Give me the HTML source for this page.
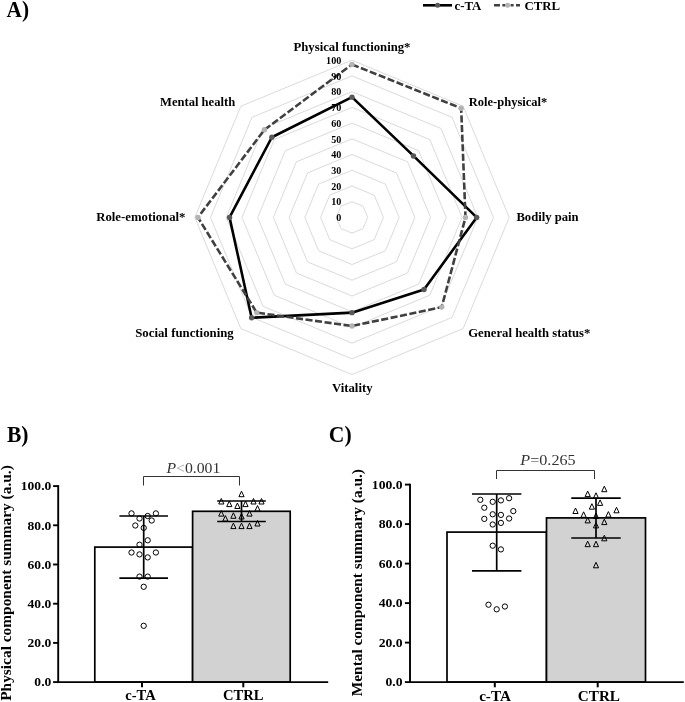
<!DOCTYPE html>
<html><head><meta charset="utf-8"><title>Figure</title>
<style>html,body{margin:0;padding:0;background:#fff}svg{display:block}</style></head>
<body><svg width="685" height="702" viewBox="0 0 685 702">
<rect width="685" height="702" fill="#fff"/>
<g font-family="'Liberation Serif', 'Times New Roman', serif">
<g fill="none" stroke="#d6d6d6" stroke-width="0.9">
<polygon points="352.00,201.68 363.12,206.28 367.72,217.40 363.12,228.52 352.00,233.12 340.88,228.52 336.28,217.40 340.88,206.28"/>
<polygon points="352.00,185.96 374.23,195.17 383.44,217.40 374.23,239.63 352.00,248.84 329.77,239.63 320.56,217.40 329.77,195.17"/>
<polygon points="352.00,170.24 385.35,184.05 399.16,217.40 385.35,250.75 352.00,264.56 318.65,250.75 304.84,217.40 318.65,184.05"/>
<polygon points="352.00,154.52 396.46,172.94 414.88,217.40 396.46,261.86 352.00,280.28 307.54,261.86 289.12,217.40 307.54,172.94"/>
<polygon points="352.00,138.80 407.58,161.82 430.60,217.40 407.58,272.98 352.00,296.00 296.42,272.98 273.40,217.40 296.42,161.82"/>
<polygon points="352.00,123.08 418.69,150.71 446.32,217.40 418.69,284.09 352.00,311.72 285.31,284.09 257.68,217.40 285.31,150.71"/>
<polygon points="352.00,107.36 429.81,139.59 462.04,217.40 429.81,295.21 352.00,327.44 274.19,295.21 241.96,217.40 274.19,139.59"/>
<polygon points="352.00,91.64 440.93,128.47 477.76,217.40 440.93,306.33 352.00,343.16 263.07,306.33 226.24,217.40 263.07,128.47"/>
<polygon points="352.00,75.92 452.04,117.36 493.48,217.40 452.04,317.44 352.00,358.88 251.96,317.44 210.52,217.40 251.96,117.36"/>
<polygon points="352.00,60.20 463.16,106.24 509.20,217.40 463.16,328.56 352.00,374.60 240.84,328.56 194.80,217.40 240.84,106.24"/>
</g>
<polygon points="352.00,97.14 413.47,155.93 476.66,217.40 424.03,289.43 352.00,312.66 251.63,317.77 229.54,217.40 271.86,137.26" fill="none" stroke="#000" stroke-width="2.6" stroke-linejoin="round"/>
<circle cx="352.00" cy="97.14" r="2.7" fill="#595959"/>
<circle cx="413.47" cy="155.93" r="2.7" fill="#595959"/>
<circle cx="476.66" cy="217.40" r="2.7" fill="#595959"/>
<circle cx="424.03" cy="289.43" r="2.7" fill="#595959"/>
<circle cx="352.00" cy="312.66" r="2.7" fill="#595959"/>
<circle cx="251.63" cy="317.77" r="2.7" fill="#595959"/>
<circle cx="229.54" cy="217.40" r="2.7" fill="#595959"/>
<circle cx="271.86" cy="137.26" r="2.7" fill="#595959"/>
<polygon points="352.00,64.44 461.16,108.24 465.50,217.40 441.70,307.10 352.00,326.03 256.74,312.66 197.94,217.40 264.41,129.81" fill="none" stroke="#404040" stroke-width="2.6" stroke-dasharray="7.1 2.5" stroke-linejoin="round"/>
<circle cx="352.00" cy="64.44" r="2.7" fill="#b3b3b3"/>
<circle cx="461.16" cy="108.24" r="2.7" fill="#b3b3b3"/>
<circle cx="465.50" cy="217.40" r="2.7" fill="#b3b3b3"/>
<circle cx="441.70" cy="307.10" r="2.7" fill="#b3b3b3"/>
<circle cx="352.00" cy="326.03" r="2.7" fill="#b3b3b3"/>
<circle cx="256.74" cy="312.66" r="2.7" fill="#b3b3b3"/>
<circle cx="197.94" cy="217.40" r="2.7" fill="#b3b3b3"/>
<circle cx="264.41" cy="129.81" r="2.7" fill="#b3b3b3"/>
<text transform="translate(341.3 221.2) scale(1.08 1)" font-size="9.4" font-weight="bold" text-anchor="end" fill="#000">0</text>
<text transform="translate(341.3 205.48) scale(1.08 1)" font-size="9.4" font-weight="bold" text-anchor="end" fill="#000">10</text>
<text transform="translate(341.3 189.76) scale(1.08 1)" font-size="9.4" font-weight="bold" text-anchor="end" fill="#000">20</text>
<text transform="translate(341.3 174.04) scale(1.08 1)" font-size="9.4" font-weight="bold" text-anchor="end" fill="#000">30</text>
<text transform="translate(341.3 158.32) scale(1.08 1)" font-size="9.4" font-weight="bold" text-anchor="end" fill="#000">40</text>
<text transform="translate(341.3 142.6) scale(1.08 1)" font-size="9.4" font-weight="bold" text-anchor="end" fill="#000">50</text>
<text transform="translate(341.3 126.88) scale(1.08 1)" font-size="9.4" font-weight="bold" text-anchor="end" fill="#000">60</text>
<text transform="translate(341.3 111.16) scale(1.08 1)" font-size="9.4" font-weight="bold" text-anchor="end" fill="#000">70</text>
<text transform="translate(341.3 95.44) scale(1.08 1)" font-size="9.4" font-weight="bold" text-anchor="end" fill="#000">80</text>
<text transform="translate(341.3 79.72) scale(1.08 1)" font-size="9.4" font-weight="bold" text-anchor="end" fill="#000">90</text>
<text transform="translate(341.3 64.0) scale(1.08 1)" font-size="9.4" font-weight="bold" text-anchor="end" fill="#000">100</text>
<text transform="translate(293.5 51) scale(0.943 1)" font-size="13.5" font-weight="bold" text-anchor="start" fill="#000">Physical functioning*</text>
<text transform="translate(468.8 106) scale(0.926 1)" font-size="13.5" font-weight="bold" text-anchor="start" fill="#000">Role-physical*</text>
<text transform="translate(516.4 221) scale(0.938 1)" font-size="13.5" font-weight="bold" text-anchor="start" fill="#000">Bodily pain</text>
<text transform="translate(468.2 337) scale(0.942 1)" font-size="13.5" font-weight="bold" text-anchor="start" fill="#000">General health status*</text>
<text transform="translate(332.0 392) scale(0.944 1)" font-size="13.5" font-weight="bold" text-anchor="start" fill="#000">Vitality</text>
<text transform="translate(135.2 337) scale(0.949 1)" font-size="13.5" font-weight="bold" text-anchor="start" fill="#000">Social functioning</text>
<text transform="translate(96.2 221) scale(0.946 1)" font-size="13.5" font-weight="bold" text-anchor="start" fill="#000">Role-emotional*</text>
<text transform="translate(160.0 106) scale(0.934 1)" font-size="13.5" font-weight="bold" text-anchor="start" fill="#000">Mental health</text>
<line x1="423" y1="5.3" x2="452" y2="5.3" stroke="#000" stroke-width="2.6"/>
<circle cx="437.6" cy="5.3" r="2.5" fill="#595959"/>
<line x1="494" y1="5.3" x2="520" y2="5.3" stroke="#404040" stroke-width="2.6" stroke-dasharray="6 2.4 3 5.2 3 2.4 6"/>
<circle cx="507.7" cy="5.3" r="2.5" fill="#b3b3b3"/>
<text transform="translate(454.5 10)" font-size="12.8" font-weight="bold" text-anchor="start" fill="#000">c-TA</text>
<text transform="translate(524.5 10)" font-size="12.8" font-weight="bold" text-anchor="start" fill="#000">CTRL</text>
<text transform="translate(6.6 17) scale(0.89 1)" font-size="24" font-weight="bold" text-anchor="start" fill="#000">A)</text>
<text transform="translate(6.9 442) scale(0.9 1)" font-size="24" font-weight="bold" text-anchor="start" fill="#000">B)</text>
<text transform="translate(328.8 442) scale(0.9 1)" font-size="24" font-weight="bold" text-anchor="start" fill="#000">C)</text>
<rect x="94.8" y="547.1" width="97.80" height="135.00" fill="#fff" stroke="#000" stroke-width="1.7"/>
<rect x="192.6" y="511.3" width="97.60" height="170.80" fill="#d2d2d2" stroke="#000" stroke-width="1.7"/>
<line x1="58.2" y1="485.15000000000003" x2="58.2" y2="683.0500000000001" stroke="#000" stroke-width="1.9"/>
<line x1="57.25" y1="682.1" x2="328.2" y2="682.1" stroke="#000" stroke-width="1.9"/>
<line x1="53.1" y1="682.10" x2="58.2" y2="682.10" stroke="#000" stroke-width="1.9"/>
<text transform="translate(51.3 686.3) scale(1.06 1)" font-size="12.8" font-weight="bold" text-anchor="end" fill="#000">0.0</text>
<line x1="53.1" y1="642.90" x2="58.2" y2="642.90" stroke="#000" stroke-width="1.9"/>
<text transform="translate(51.3 647.1) scale(1.06 1)" font-size="12.8" font-weight="bold" text-anchor="end" fill="#000">20.0</text>
<line x1="53.1" y1="603.70" x2="58.2" y2="603.70" stroke="#000" stroke-width="1.9"/>
<text transform="translate(51.3 607.9) scale(1.06 1)" font-size="12.8" font-weight="bold" text-anchor="end" fill="#000">40.0</text>
<line x1="53.1" y1="564.50" x2="58.2" y2="564.50" stroke="#000" stroke-width="1.9"/>
<text transform="translate(51.3 568.7) scale(1.06 1)" font-size="12.8" font-weight="bold" text-anchor="end" fill="#000">60.0</text>
<line x1="53.1" y1="525.30" x2="58.2" y2="525.30" stroke="#000" stroke-width="1.9"/>
<text transform="translate(51.3 529.5) scale(1.06 1)" font-size="12.8" font-weight="bold" text-anchor="end" fill="#000">80.0</text>
<line x1="53.1" y1="486.10" x2="58.2" y2="486.10" stroke="#000" stroke-width="1.9"/>
<text transform="translate(51.3 490.3) scale(1.06 1)" font-size="12.8" font-weight="bold" text-anchor="end" fill="#000">100.0</text>
<line x1="142" y1="682.1" x2="142" y2="687.3000000000001" stroke="#000" stroke-width="2"/>
<line x1="243.3" y1="682.1" x2="243.3" y2="687.3000000000001" stroke="#000" stroke-width="2"/>
<text transform="translate(140.5 700.3) scale(1.02 1)" font-size="14.3" font-weight="bold" text-anchor="middle" fill="#000">c-TA</text>
<text transform="translate(243.3 700.3) scale(1.02 1)" font-size="14.3" font-weight="bold" text-anchor="middle" fill="#000">CTRL</text>
<g stroke="#000" stroke-width="1.7"><line x1="143.7" y1="516" x2="143.7" y2="578.2"/><line x1="119.39999999999999" y1="516" x2="168.0" y2="516"/><line x1="119.39999999999999" y1="578.2" x2="168.0" y2="578.2"/></g>
<g stroke="#000" stroke-width="1.7"><line x1="241.5" y1="501" x2="241.5" y2="521.5"/><line x1="217.2" y1="501" x2="265.8" y2="501"/><line x1="217.2" y1="521.5" x2="265.8" y2="521.5"/></g>
<g fill="none" stroke="#000" stroke-width="1">
<circle cx="131.5" cy="513.4" r="2.65"/>
<circle cx="155.9" cy="513.4" r="2.65"/>
<circle cx="147.7" cy="516.0" r="2.65"/>
<circle cx="139.5" cy="518.5" r="2.65"/>
<circle cx="151.7" cy="520.5" r="2.65"/>
<circle cx="135.3" cy="525.5" r="2.65"/>
<circle cx="143.7" cy="527.9" r="2.65"/>
<circle cx="147.7" cy="540.3" r="2.65"/>
<circle cx="139.5" cy="544.7" r="2.65"/>
<circle cx="131.5" cy="552.5" r="2.65"/>
<circle cx="155.9" cy="552.5" r="2.65"/>
<circle cx="139.5" cy="554.4" r="2.65"/>
<circle cx="147.7" cy="557.4" r="2.65"/>
<circle cx="139.5" cy="576.6" r="2.65"/>
<circle cx="147.7" cy="576.6" r="2.65"/>
<circle cx="143.7" cy="586.8" r="2.65"/>
<circle cx="143.7" cy="625.8" r="2.65"/>
<path d="M238.9 496.7L241.5 491.2L244.1 496.7Z"/>
<path d="M218.7 504.0L221.3 498.5L223.9 504.0Z"/>
<path d="M250.9 504.0L253.5 498.5L256.1 504.0Z"/>
<path d="M258.9 504.0L261.5 498.5L264.1 504.0Z"/>
<path d="M226.7 506.6L229.3 501.1L231.9 506.6Z"/>
<path d="M242.9 506.6L245.5 501.1L248.1 506.6Z"/>
<path d="M234.8 508.5L237.4 503.0L240.0 508.5Z"/>
<path d="M254.9 511.1L257.5 505.6L260.1 511.1Z"/>
<path d="M218.7 516.1L221.3 510.6L223.9 516.1Z"/>
<path d="M246.9 516.1L249.5 510.6L252.1 516.1Z"/>
<path d="M230.8 518.3L233.4 512.8L236.0 518.3Z"/>
<path d="M238.9 519.0L241.5 513.5L244.1 519.0Z"/>
<path d="M222.8 521.1L225.4 515.6L228.0 521.1Z"/>
<path d="M254.9 526.0L257.5 520.5L260.1 526.0Z"/>
<path d="M230.8 528.6L233.4 523.1L236.0 528.6Z"/>
<path d="M238.9 528.6L241.5 523.1L244.1 528.6Z"/>
<path d="M246.9 528.6L249.5 523.1L252.1 528.6Z"/>
</g>
<path d="M143.5 485.5V476.5H239.5V485.5" fill="none" stroke="#333" stroke-width="1"/>
<text transform="translate(11.1 700.8) rotate(-90)" font-size="15.4" font-weight="bold" text-anchor="start" fill="#000">Physical component summary (a.u.)</text>
<text transform="translate(166.4 473) scale(1.05 1)" font-size="15" fill="#333"><tspan font-style="italic">P</tspan><tspan fill="#999">&lt;</tspan>0.001</text>
<rect x="447.0" y="532.1" width="99.50" height="150.00" fill="#fff" stroke="#000" stroke-width="1.7"/>
<rect x="546.5" y="517.9" width="99.00" height="164.20" fill="#d2d2d2" stroke="#000" stroke-width="1.7"/>
<line x1="410.0" y1="483.65000000000003" x2="410.0" y2="683.0500000000001" stroke="#000" stroke-width="1.9"/>
<line x1="409.05" y1="682.1" x2="683.8" y2="682.1" stroke="#000" stroke-width="1.9"/>
<line x1="404.9" y1="682.10" x2="410.0" y2="682.10" stroke="#000" stroke-width="1.9"/>
<text transform="translate(402.6 686.1) scale(1.06 1)" font-size="12.9" font-weight="bold" text-anchor="end" fill="#000">0.0</text>
<line x1="404.9" y1="642.60" x2="410.0" y2="642.60" stroke="#000" stroke-width="1.9"/>
<text transform="translate(402.6 646.6) scale(1.06 1)" font-size="12.9" font-weight="bold" text-anchor="end" fill="#000">20.0</text>
<line x1="404.9" y1="603.10" x2="410.0" y2="603.10" stroke="#000" stroke-width="1.9"/>
<text transform="translate(402.6 607.1) scale(1.06 1)" font-size="12.9" font-weight="bold" text-anchor="end" fill="#000">40.0</text>
<line x1="404.9" y1="563.60" x2="410.0" y2="563.60" stroke="#000" stroke-width="1.9"/>
<text transform="translate(402.6 567.6) scale(1.06 1)" font-size="12.9" font-weight="bold" text-anchor="end" fill="#000">60.0</text>
<line x1="404.9" y1="524.10" x2="410.0" y2="524.10" stroke="#000" stroke-width="1.9"/>
<text transform="translate(402.6 528.1) scale(1.06 1)" font-size="12.9" font-weight="bold" text-anchor="end" fill="#000">80.0</text>
<line x1="404.9" y1="484.60" x2="410.0" y2="484.60" stroke="#000" stroke-width="1.9"/>
<text transform="translate(402.6 488.6) scale(1.06 1)" font-size="12.9" font-weight="bold" text-anchor="end" fill="#000">100.0</text>
<line x1="494.8" y1="682.1" x2="494.8" y2="687.3000000000001" stroke="#000" stroke-width="2"/>
<line x1="597.7" y1="682.1" x2="597.7" y2="687.3000000000001" stroke="#000" stroke-width="2"/>
<text transform="translate(495.0 700.6) scale(1.04 1)" font-size="14.6" font-weight="bold" text-anchor="middle" fill="#000">c-TA</text>
<text transform="translate(598.9 700.6) scale(1.04 1)" font-size="14.6" font-weight="bold" text-anchor="middle" fill="#000">CTRL</text>
<g stroke="#000" stroke-width="1.7"><line x1="496.7" y1="494" x2="496.7" y2="570.8"/><line x1="472.0" y1="494" x2="521.4" y2="494"/><line x1="472.0" y1="570.8" x2="521.4" y2="570.8"/></g>
<g stroke="#000" stroke-width="1.7"><line x1="596.0" y1="498.1" x2="596.0" y2="538"/><line x1="571.3" y1="498.1" x2="620.7" y2="498.1"/><line x1="571.3" y1="538" x2="620.7" y2="538"/></g>
<g fill="none" stroke="#000" stroke-width="1">
<circle cx="509.1" cy="498.2" r="2.65"/>
<circle cx="480.3" cy="499.8" r="2.65"/>
<circle cx="500.9" cy="500.4" r="2.65"/>
<circle cx="492.7" cy="501.8" r="2.65"/>
<circle cx="484.3" cy="507.7" r="2.65"/>
<circle cx="513.3" cy="511.1" r="2.65"/>
<circle cx="492.7" cy="514.3" r="2.65"/>
<circle cx="500.9" cy="514.9" r="2.65"/>
<circle cx="484.3" cy="518.9" r="2.65"/>
<circle cx="509.1" cy="518.5" r="2.65"/>
<circle cx="500.9" cy="522.9" r="2.65"/>
<circle cx="492.7" cy="524.5" r="2.65"/>
<circle cx="492.7" cy="545.7" r="2.65"/>
<circle cx="500.9" cy="549.4" r="2.65"/>
<circle cx="488.5" cy="604.7" r="2.65"/>
<circle cx="504.9" cy="606.5" r="2.65"/>
<circle cx="496.7" cy="609.3" r="2.65"/>
<path d="M601.7 491.7L604.3 486.2L606.9 491.7Z"/>
<path d="M585.1 496.6L587.7 491.1L590.3 496.6Z"/>
<path d="M593.4 498.3L596.0 492.8L598.6 498.3Z"/>
<path d="M597.5 505.4L600.1 499.9L602.7 505.4Z"/>
<path d="M589.3 509.2L591.9 503.7L594.5 509.2Z"/>
<path d="M572.9 513.5L575.5 508.0L578.1 513.5Z"/>
<path d="M613.9 512.8L616.5 507.3L619.1 512.8Z"/>
<path d="M581.0 517.3L583.6 511.8L586.2 517.3Z"/>
<path d="M605.8 517.1L608.4 511.6L611.0 517.1Z"/>
<path d="M593.4 518.5L596.0 513.0L598.6 518.5Z"/>
<path d="M585.1 522.9L587.7 517.4L590.3 522.9Z"/>
<path d="M601.7 524.6L604.3 519.1L606.9 524.6Z"/>
<path d="M593.4 527.9L596.0 522.4L598.6 527.9Z"/>
<path d="M601.7 540.8L604.3 535.3L606.9 540.8Z"/>
<path d="M585.1 546.7L587.7 541.2L590.3 546.7Z"/>
<path d="M593.4 546.7L596.0 541.2L598.6 546.7Z"/>
<path d="M593.4 567.8L596.0 562.3L598.6 567.8Z"/>
</g>
<path d="M496.5 479V470.5H594.5V479" fill="none" stroke="#333" stroke-width="1"/>
<text transform="translate(361.8 696.2) rotate(-90)" font-size="15.35" font-weight="bold" text-anchor="start" fill="#000">Mental component summary (a.u.)</text>
<text transform="translate(520.3 465) scale(1.077 1)" font-size="15" fill="#333"><tspan font-style="italic">P</tspan>=0.265</text>
</g>
</svg></body></html>
